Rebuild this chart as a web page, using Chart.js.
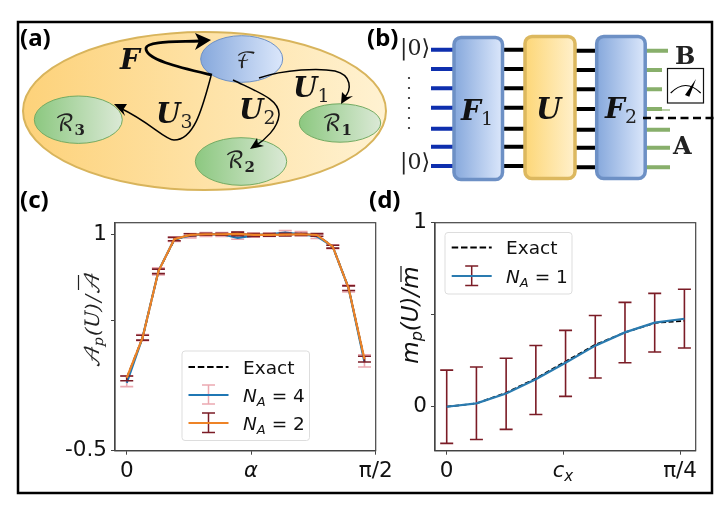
<!DOCTYPE html>
<html>
<head>
<meta charset="utf-8">
<title>Panels</title>
<script src="https://cdn.jsdelivr.net/npm/chart.js@4"></script>
<style>
html, body { margin: 0; padding: 0; background: #fff; }
#page { position: relative; width: 720px; height: 505px; overflow: hidden; }
#page canvas, #page svg { position: absolute; left: 0; top: 0; }
.mono { font-family: "DejaVu Sans"; fill: #111; }
.bold { font-family: "DejaVu Serif"; font-weight: bold; font-style: italic; fill: #111; }
.rm { font-family: "DejaVu Serif"; fill: #222; }
.cal { font-family: "DejaVu Math TeX Gyre", "DejaVu Serif"; fill: #222; }
.panel { font-family: "Noto Sans"; font-weight: bold; font-size: 24px; fill: #000; }
</style>
</head>
<body>
<div id="page">
<canvas id="chartC" width="720" height="505"></canvas>
<canvas id="chartD" width="720" height="505"></canvas>

<svg width="720" height="505" xmlns="http://www.w3.org/2000/svg">
<defs>
  <linearGradient id="gold"><stop offset="0" stop-color="#fdd27a"/><stop offset="1" stop-color="#fff2d2"/></linearGradient>
  <linearGradient id="gold2"><stop offset="0" stop-color="#fdd778"/><stop offset="1" stop-color="#fff0cb"/></linearGradient>
  <linearGradient id="blue"><stop offset="0" stop-color="#86a8dc"/><stop offset="1" stop-color="#dbe7fb"/></linearGradient>
  <linearGradient id="green"><stop offset="0" stop-color="#8cc880"/><stop offset="1" stop-color="#dbe9d6"/></linearGradient>
</defs>

<rect x="18" y="22" width="694" height="471" fill="none" stroke="#000" stroke-width="2.5"/>

<!-- panel a -->
<ellipse cx="204.5" cy="111" rx="181.5" ry="79" fill="url(#gold)" stroke="#d8b45c" stroke-width="2"/>
<ellipse cx="241.7" cy="59" rx="41" ry="23.3" fill="url(#blue)" stroke="#6d90c5" stroke-width="1"/>
<ellipse cx="78.3" cy="119.7" rx="44" ry="23.7" fill="url(#green)" stroke="#73ab63" stroke-width="1"/>
<ellipse cx="241" cy="161.5" rx="45.7" ry="23.8" fill="url(#green)" stroke="#73ab63" stroke-width="1"/>
<ellipse cx="340" cy="123" rx="40.7" ry="19.2" fill="url(#green)" stroke="#73ab63" stroke-width="1"/>

<g fill="none" stroke="#000">
  <path d="M212 75 C182 68 145 60 146 48 C147 41 175 42 200 41" stroke-width="2.8"/>
  <path d="M211 76 C203 105 195 140 174 140 C165 140 150 122 120 108" stroke-width="1.5"/>
  <path d="M233 80 C260 93 280 100 279 115 C278 128 265 140 255 146" stroke-width="1.5"/>
  <path d="M259 78 C285 69 320 68 335 71 C352 75 352 90 344 98" stroke-width="1.5"/>
</g>
<polygon points="211,40 195,33 199,41 195,50" fill="#000"/>
<polygon points="114,104 127,104 123,110 125,116" fill="#000"/>
<polygon points="250,149 257,138 258,144 264,146" fill="#000"/>
<polygon points="341,104 342,92 347,97 353,96" fill="#000"/>

<text class="bold" x="120" y="69" font-size="28">F</text>
<text class="bold" x="156" y="123" font-size="28">U<tspan class="rm" font-style="normal" font-weight="normal" font-size="19" dy="5">3</tspan></text>
<text class="bold" x="239" y="119" font-size="28">U<tspan class="rm" font-style="normal" font-weight="normal" font-size="19" dy="5">2</tspan></text>
<text class="bold" x="293" y="97" font-size="28">U<tspan class="rm" font-style="normal" font-weight="normal" font-size="19" dy="5">1</tspan></text>
<text class="cal" x="236" y="68" font-size="22">ℱ</text>
<text class="cal" x="55" y="131" font-size="23">ℛ<tspan class="rm" font-weight="bold" font-size="15" dy="4">3</tspan></text>
<text class="cal" x="225" y="168" font-size="23">ℛ<tspan class="rm" font-weight="bold" font-size="15" dy="4">2</tspan></text>
<text class="cal" x="322" y="131" font-size="23">ℛ<tspan class="rm" font-weight="bold" font-size="15" dy="4">1</tspan></text>

<!-- panel b -->
<g stroke="#0e2fae" stroke-width="4">
  <path d="M431 49.7H453M431 69H453M431 88.3H453M431 107.7H453M431 128.7H453M431 146.7H453M431 166H453"/>
</g>
<g stroke="#000" stroke-width="4">
  <path d="M504 49.7H525M504 69H525M504 88.3H525M504 107.7H525M504 128.7H525M504 146.7H525M504 166H525"/>
  <path d="M574 50.7H597M574 70H597M574 89.3H597M574 109H597M574 129.7H597M574 147.7H597M574 167.3H597"/>
</g>
<g stroke="#88af6b" stroke-width="4">
  <path d="M646 50.7H668M646 70H662M646 89.3H662M646 109H662M646 129.7H670M646 147.7H670M646 167.3H670"/>
  <path d="M646 110H670" stroke-width="1.2"/>
</g>
<rect x="454" y="37.5" width="48.5" height="142" rx="7" fill="url(#blue)" stroke="#6d90c5" stroke-width="3.5"/>
<rect x="525" y="36.5" width="50" height="142" rx="7" fill="url(#gold2)" stroke="#dcb85f" stroke-width="3.5"/>
<rect x="596.7" y="36.5" width="48.5" height="142" rx="7" fill="url(#blue)" stroke="#6d90c5" stroke-width="3.5"/>
<path d="M643 118H716" stroke="#000" stroke-width="2.5" stroke-dasharray="8 4.5" fill="none"/>

<text class="bold" x="461" y="120" font-size="28">F<tspan class="rm" font-style="normal" font-weight="normal" font-size="19" dy="5">1</tspan></text>
<text class="bold" x="536" y="119" font-size="29">U</text>
<text class="bold" x="605" y="118" font-size="28">F<tspan class="rm" font-style="normal" font-weight="normal" font-size="19" dy="5">2</tspan></text>

<text class="rm" x="400" y="55" font-size="22">|0⟩</text>
<text class="rm" x="400" y="169" font-size="22">|0⟩</text>
<g fill="#222">
  <circle cx="409" cy="78" r="1.1"/><circle cx="409" cy="88" r="1.1"/><circle cx="409" cy="98" r="1.1"/>
  <circle cx="409" cy="108" r="1.1"/><circle cx="409" cy="118" r="1.1"/><circle cx="409" cy="128" r="1.1"/>
</g>
<text class="rm" x="675" y="64" font-size="24" font-weight="bold">B</text>
<text class="rm" x="673" y="154" font-size="24" font-weight="bold">A</text>
<rect x="667.5" y="68.5" width="36" height="34.5" fill="#fff" stroke="#111" stroke-width="1.2"/>
<path d="M670.7 93 Q685.5 78 700.7 93" fill="none" stroke="#000" stroke-width="1.2"/>
<polygon points="685,95 689.3,96.7 696,79" fill="#000"/>

<!-- panel letters -->
<text class="panel" x="20" y="46">(a)</text>
<text class="panel" x="367" y="46">(b)</text>
<text class="panel" x="20" y="208">(c)</text>
<text class="panel" x="369" y="208">(d)</text>

<!-- axis labels -->
<text class="mono" x="251" y="477" font-size="21" font-style="italic" text-anchor="middle">α</text>
<text class="mono" x="563" y="477" font-size="21" font-style="italic" text-anchor="middle">c<tspan font-size="15" dy="4">x</tspan></text>
<text class="cal" transform="translate(99,321) rotate(-90)" font-size="20" text-anchor="middle" font-style="italic">𝒜<tspan font-size="14" dy="4">p</tspan><tspan dy="-4">(U)/</tspan><tspan>𝒜</tspan></text>
<path d="M78.5 275V290" stroke="#222" stroke-width="1.2"/>
<text class="mono" transform="translate(418,315) rotate(-90)" font-size="23" text-anchor="middle" font-style="italic">m<tspan font-size="16" dy="4">p</tspan><tspan dy="-4">(U)/</tspan><tspan>m</tspan></text>
<path d="M401 266V282" stroke="#111" stroke-width="1.2"/>

<!-- legend c -->
<rect x="182" y="351" width="127.5" height="89.5" rx="3" fill="#fff" stroke="#ddd" stroke-width="1"/>
<path d="M188.5 367H228.5" stroke="#000" stroke-width="1.9" stroke-dasharray="6.5 2.8"/>
<text class="mono" x="243" y="373.5" font-size="18.5">Exact</text>
<path d="M208.5 385V404M202 385H215M202 404H215" stroke="#eba9b1" stroke-width="1.5" fill="none"/>
<path d="M188.5 395H228.5" stroke="#1f77b4" stroke-width="1.9"/>
<text class="mono" x="243" y="402" font-size="18.5"><tspan font-style="italic">N</tspan><tspan font-style="italic" font-size="13" dy="4">A</tspan><tspan dy="-4"> = 4</tspan></text>
<path d="M208.5 413V432.5M202 413H215M202 432.5H215" stroke="#7b1c26" stroke-width="1.5" fill="none"/>
<path d="M188.5 423H228.5" stroke="#ee8326" stroke-width="1.9"/>
<text class="mono" x="243" y="430" font-size="18.5"><tspan font-style="italic">N</tspan><tspan font-style="italic" font-size="13" dy="4">A</tspan><tspan dy="-4"> = 2</tspan></text>

<!-- legend d -->
<rect x="445" y="232.5" width="127" height="61.5" rx="3" fill="#fff" stroke="#ddd" stroke-width="1"/>
<path d="M451.7 247.5H491.7" stroke="#000" stroke-width="1.9" stroke-dasharray="6.5 2.8"/>
<text class="mono" x="506" y="254" font-size="18.5">Exact</text>
<path d="M471.7 266V285.5M465.2 266H478.2M465.2 285.5H478.2" stroke="#7b1c26" stroke-width="1.5" fill="none"/>
<path d="M451.7 276H491.7" stroke="#2a7bb0" stroke-width="1.9"/>
<text class="mono" x="506" y="283" font-size="18.5"><tspan font-style="italic">N</tspan><tspan font-style="italic" font-size="13" dy="4">A</tspan><tspan dy="-4"> = 1</tspan></text>
</svg>
</div>

<script>
// panel c
const alphaVals = [0, 0.1, 0.2, 0.3, 0.4, 0.5, 0.6, 0.7, 0.8, 0.9, 1.0, 1.1, 1.2, 1.3, 1.4, 1.5];
const exactC = [0.002, 0.283, 0.743, 0.962, 0.995, 1, 1, 1, 0.997, 0.996, 0.998, 1, 0.995, 0.914, 0.626, 0.13];
const na4 = [-0.03, 0.285, 0.745, 0.965, 0.99, 1, 1, 0.975, 0.99, 1, 1.012, 1, 0.985, 0.914, 0.625, 0.115];
const na4Low = [-0.056, 0.262, 0.718, 0.95, 0.975, 0.985, 0.985, 0.965, 0.98, 0.985, 0.995, 0.99, 0.97, 0.9, 0.6, 0.08];
const na4High = [0.018, 0.305, 0.768, 0.98, 1.005, 1.012, 1.012, 1.015, 1.008, 1.008, 1.025, 1.018, 1.0, 0.925, 0.648, 0.165];
const na2 = [0.004, 0.283, 0.743, 0.965, 0.995, 1, 1, 1.003, 0.995, 0.995, 0.997, 1, 0.995, 0.914, 0.626, 0.133];
const na2Low = [-0.015, 0.266, 0.727, 0.955, 0.988, 0.993, 0.993, 0.99, 0.985, 0.987, 0.988, 0.992, 0.986, 0.904, 0.61, 0.115];
const na2High = [0.018, 0.3, 0.758, 0.978, 1.003, 1.007, 1.007, 1.015, 1.004, 1.004, 1.006, 1.007, 1.004, 0.924, 0.642, 0.155];

// panel d
const cxVals = [0, 0.1, 0.2, 0.3, 0.4, 0.5, 0.6, 0.7, 0.8];
const exactD = [0, 0.018, 0.076, 0.154, 0.246, 0.337, 0.404, 0.455, 0.467];
const na1 = [0, 0.018, 0.072, 0.149, 0.239, 0.332, 0.404, 0.457, 0.478];
const na1Low = [-0.199, -0.178, -0.123, -0.042, 0.056, 0.156, 0.239, 0.297, 0.319];
const na1High = [0.199, 0.216, 0.263, 0.333, 0.415, 0.496, 0.567, 0.616, 0.638];

const ticksC = { x: [0, Math.PI / 4, Math.PI / 2], xl: ['0', '', 'π/2'], y: [-0.5, 0.4, 1], yl: ['-0.5', '', '1'] };
const ticksD = { x: [0, Math.PI / 8, Math.PI / 4], xl: ['0', '', 'π/4'], y: [0, 0.5, 1], yl: ['0', '', '1'] };

// room kept for the tick labels, chart.js clips them to the scale box
const yAxisW = 80;
const xAxisH = 45;

function pts(xs, ys) {
    return xs.map((x, i) => ({ x: x, y: ys[i] }));
}

// chart.js has no error bars, so draw them before each dataset line
const errorBars = {
    id: 'errorBars',
    beforeDatasetDraw(chart, args) {
        const ds = chart.data.datasets[args.index];
        if (!ds.errLow) return;
        const ctx = chart.ctx;
        const xs = chart.scales.x;
        const ys = chart.scales.y;
        ctx.save();
        ctx.strokeStyle = ds.errColor;
        ctx.lineWidth = 1.6;
        ds.data.forEach((p, i) => {
            const px = xs.getPixelForValue(p.x);
            const lo = ys.getPixelForValue(ds.errLow[i]);
            const hi = ys.getPixelForValue(ds.errHigh[i]);
            ctx.beginPath();
            ctx.moveTo(px, lo);
            ctx.lineTo(px, hi);
            ctx.moveTo(px - 6.5, lo);
            ctx.lineTo(px + 6.5, lo);
            ctx.moveTo(px - 6.5, hi);
            ctx.lineTo(px + 6.5, hi);
            ctx.stroke();
        });
        ctx.restore();
    }
};

const frame = {
    id: 'frame',
    beforeDatasetsDraw(chart) {
        const a = chart.chartArea;
        chart.ctx.save();
        chart.ctx.strokeStyle = '#444';
        chart.ctx.lineWidth = 1.2;
        chart.ctx.strokeRect(a.left, a.top, a.right - a.left, a.bottom - a.top);
        chart.ctx.restore();
    }
};

function axis(min, max, vals, labels, isX) {
    return {
        type: 'linear',
        min: min,
        max: max,
        border: { color: '#444', width: 1.2 },
        grid: { drawOnChartArea: false, drawTicks: true, tickLength: 4, tickColor: '#444' },
        ticks: {
            color: '#111',
            padding: 4,
            maxRotation: 0,
            autoSkip: false,
            font: { family: 'DejaVu Sans', size: 21.5 },
            callback: function (v) {
                const i = vals.findIndex(t => Math.abs(t - v) < 1e-6);
                return i >= 0 ? labels[i] : '';
            }
        },
        afterBuildTicks: function (scale) {
            scale.ticks = vals.map(v => ({ value: v }));
        },
        afterFit: function (scale) {
            if (isX) {
                scale.height = xAxisH;
                scale.paddingLeft = 0;
                scale.paddingRight = 0;
            } else {
                scale.width = yAxisW;
                scale.paddingTop = 0;
                scale.paddingBottom = 0;
            }
        }
    };
}

function makeChart(id, datasets, scales, area) {
    return new Chart(document.getElementById(id), {
        type: 'line',
        data: { datasets: datasets },
        options: {
            responsive: false,
            animation: false,
            parsing: false,
            clip: false,
            layout: {
                padding: {
                    left: area.left - yAxisW,
                    top: area.top,
                    right: 720 - area.right,
                    bottom: 505 - area.bottom - xAxisH
                }
            },
            scales: scales,
            plugins: { legend: { display: false }, tooltip: { enabled: false } }
        },
        plugins: [frame, errorBars]
    });
}

makeChart('chartC', [
    { label: 'Exact', data: pts(alphaVals, exactC), borderColor: '#000', borderWidth: 1.9, borderDash: [6.5, 2.8], pointRadius: 0, order: 3 },
    { label: 'N_A = 2', data: pts(alphaVals, na2), borderColor: '#ee8326', borderWidth: 2.2, pointRadius: 0, order: 1, errLow: na2Low, errHigh: na2High, errColor: '#7b1c26' },
    { label: 'N_A = 4', data: pts(alphaVals, na4), borderColor: '#1f77b4', borderWidth: 2.2, pointRadius: 0, order: 2, errLow: na4Low, errHigh: na4High, errColor: '#eba9b1' }
], {
    x: axis(-0.074, Math.PI / 2, ticksC.x, ticksC.xl, true),
    y: axis(-0.5, 1.08, ticksC.y, ticksC.yl, false)
}, { left: 115, top: 222.7, right: 375.7, bottom: 450.7 });

makeChart('chartD', [
    { label: 'Exact', data: pts(cxVals, exactD), borderColor: '#000', borderWidth: 1.7, borderDash: [5, 2.5], pointRadius: 0, order: 2 },
    { label: 'N_A = 1', data: pts(cxVals, na1), borderColor: '#2a7bb0', borderWidth: 2.2, pointRadius: 0, order: 1, errLow: na1Low, errHigh: na1High, errColor: '#7b1c26' }
], {
    x: axis(-0.0394, 0.838, ticksD.x, ticksD.xl, true),
    y: axis(-0.239, 1, ticksD.y, ticksD.yl, false)
}, { left: 435, top: 222.7, right: 695.7, bottom: 450.7 });
</script>
</body>
</html>
